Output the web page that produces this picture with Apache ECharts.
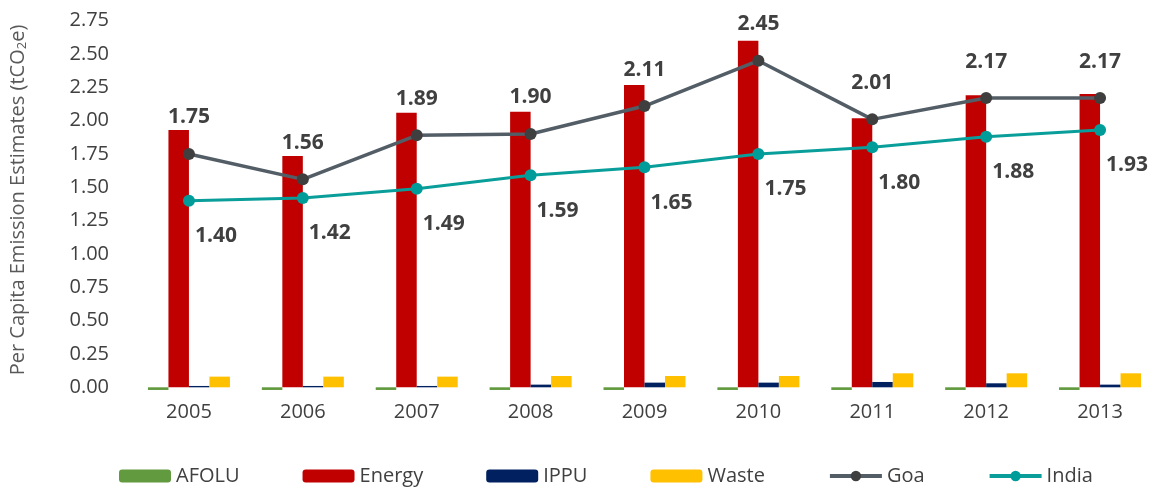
<!DOCTYPE html>
<html>
<head>
<meta charset="utf-8">
<script src="https://cdn.jsdelivr.net/npm/echarts@6/dist/echarts.min.js"></script>
<style>
  html, body { margin: 0; padding: 0; background: #fff; }
  #chart { width: 1157px; height: 487px; }
</style>
</head>
<body>
<div id="chart"></div>
<script>
var years = ['2005', '2006', '2007', '2008', '2009', '2010', '2011', '2012', '2013'];
var afolu = [-0.02, -0.02, -0.02, -0.02, -0.02, -0.02, -0.02, -0.02, -0.02];
var energy = [1.93, 1.735, 2.06, 2.067, 2.268, 2.60, 2.018, 2.19, 2.20];
var ippu = [0.01, 0.01, 0.01, 0.02, 0.035, 0.035, 0.04, 0.03, 0.02];
var waste = [0.08, 0.08, 0.08, 0.085, 0.085, 0.085, 0.105, 0.105, 0.105];
var goa = [1.75, 1.56, 1.89, 1.90, 2.11, 2.45, 2.01, 2.17, 2.17];
var india = [1.40, 1.42, 1.49, 1.59, 1.65, 1.75, 1.80, 1.88, 1.93];

var chart = echarts.init(document.getElementById('chart'));
var font = '"Open Sans", sans-serif';
var textColor = '#404040';

function barSeries(name, data, color) {
  return {
    name: name,
    type: 'bar',
    data: data,
    barWidth: 20.5,
    barGap: '0%',
    clip: false,
    itemStyle: { color: color },
    emphasis: { disabled: true }
  };
}

chart.setOption({
  animation: false,
  textStyle: { fontFamily: font },
  grid: {
    left: 131,
    width: 1028,
    top: 20.7,
    bottom: 99.7
  },
  legend: {
    left: 114,
    top: 461,
    itemGap: 63,
    itemWidth: 52,
    itemHeight: 13,
    lineStyle: { width: 4 },
    textStyle: { fontSize: 20, color: textColor, fontFamily: font },
    data: ['AFOLU', 'Energy', 'IPPU', 'Waste', 'Goa', 'India']
  },
  xAxis: {
    type: 'category',
    data: years,
    axisLine: { show: false },
    axisTick: { show: false },
    axisLabel: { fontSize: 20, color: textColor, margin: 15 }
  },
  yAxis: {
    type: 'value',
    min: 0,
    max: 2.75,
    interval: 0.25,
    splitLine: { show: false },
    axisLine: { show: false },
    axisTick: { show: false },
    axisLabel: {
      fontSize: 20,
      color: textColor,
      margin: 23,
      formatter: function (v) { return v.toFixed(2); }
    },
    name: 'Per Capita Emission Estimates (tCO{sub|2}e)',
    nameLocation: 'middle',
    nameRotate: 90,
    nameGap: 103,
    nameTextStyle: {
      fontSize: 20,
      color: '#595959',
      padding: [0, 0, 0, 8],
      rich: {
        sub: { fontSize: 13, color: '#595959', verticalAlign: 'bottom', padding: [9, 0, 0, 0] }
      }
    }
  },
  series: [
    barSeries('AFOLU', afolu, '#629A3F'),
    barSeries('Energy', energy, '#C00000'),
    barSeries('IPPU', ippu, '#002060'),
    barSeries('Waste', waste, '#FFC000'),
    {
      name: 'Goa',
      type: 'line',
      data: goa,
      symbol: 'circle',
      symbolSize: 12,
      lineStyle: { color: '#535D66', width: 3.5 },
      itemStyle: { color: '#3F3F3F' },
      label: {
        show: true,
        position: 'top',
        distance: 20,
        fontSize: 21,
        fontWeight: 'bold',
        color: textColor,
        formatter: function (p) { return p.value.toFixed(2); }
      },
      z: 5
    },
    {
      name: 'India',
      type: 'line',
      data: india,
      symbol: 'circle',
      symbolSize: 12,
      lineStyle: { color: '#0A9E9A', width: 3 },
      itemStyle: { color: '#009C99' },
      label: {
        show: true,
        position: 'bottom',
        distance: 19,
        offset: [27, 0],
        fontSize: 21,
        fontWeight: 'bold',
        color: textColor,
        formatter: function (p) { return p.value.toFixed(2); }
      },
      z: 5
    }
  ]
});
</script>
</body>
</html>
